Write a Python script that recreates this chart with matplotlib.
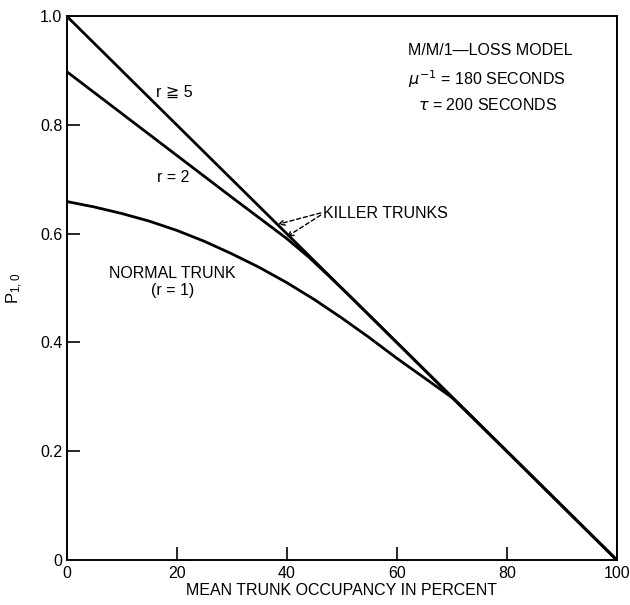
import matplotlib.pyplot as plt

plt.rcParams['font.family'] = ['Liberation Sans', 'DejaVu Sans']

# r >= 5 (straight line)
x_r5 = [0, 100]
y_r5 = [1.0, 0.0]

# r = 2
x_r2 = [0, 10, 20, 30, 40, 44, 48, 52, 60, 80, 100]
y_r2 = [0.898, 0.821, 0.744, 0.667, 0.591, 0.557, 0.519, 0.480, 0.400, 0.200, 0.0]

# normal trunk (r = 1)
x_r1 = [0, 5, 10, 15, 20, 25, 30, 35, 40, 45, 50, 55, 60, 65, 70, 75, 80, 90, 100]
y_r1 = [0.659, 0.649, 0.637, 0.623, 0.606, 0.586, 0.563, 0.538, 0.510, 0.479,
        0.445, 0.409, 0.371, 0.335, 0.299, 0.250, 0.200, 0.100, 0.0]

xticks = [0, 20, 40, 60, 80, 100]
yticks = [0, 0.2, 0.4, 0.6, 0.8, 1.0]
ytick_labels = ['0', '0.2', '0.4', '0.6', '0.8', '1.0']

fig = plt.figure(figsize=(6.3, 6.05), dpi=100)
ax = fig.add_axes([0.1056, 0.0744, 0.8734, 0.8992])

for xs, ys in [(x_r5, y_r5), (x_r2, y_r2), (x_r1, y_r1)]:
    ax.plot(xs, ys, color='black', lw=2.0, solid_capstyle='butt',
            solid_joinstyle='round')

ax.set_xlim(0, 100)
ax.set_ylim(0, 1.0)
ax.set_xticks(xticks)
ax.set_yticks(yticks)
ax.set_yticklabels(ytick_labels)
ax.tick_params(direction='in', length=9.5, width=1.2, labelsize=11.5, colors='black')
ax.tick_params(axis='x', pad=4)
ax.tick_params(axis='y', pad=3)
for t in [ax.xaxis.get_major_ticks()[0], ax.xaxis.get_major_ticks()[-1],
          ax.yaxis.get_major_ticks()[0], ax.yaxis.get_major_ticks()[-1]]:
    t.tick1line.set_visible(False)
for s in ax.spines.values():
    s.set_linewidth(1.4)

ax.set_xlabel('MEAN TRUNK OCCUPANCY IN PERCENT', fontsize=11.5, labelpad=2)
ax.set_ylabel(r'$\mathregular{P_{1,0}}$', fontsize=12)
ax.yaxis.set_label_coords(-0.075, 0.5)

fs = 11.5
ax.text(19.5, 0.86, 'r ≧ 5', fontsize=fs, ha='center', va='center')
ax.text(19.4, 0.704, 'r = 2', fontsize=fs, ha='center', va='center')
ax.text(19.2, 0.527, 'NORMAL TRUNK', fontsize=fs, ha='center', va='center')
ax.text(19.2, 0.495, '(r = 1)', fontsize=fs, ha='center', va='center')

ax.text(62.0, 0.936, 'M/M/1\u2014LOSS MODEL', fontsize=fs, ha='left', va='center')
ax.text(62.0, 0.884, r'$\mu^{-1}$ = 180 SECONDS', fontsize=fs, ha='left', va='center')
ax.text(63.8, 0.836, r'$\tau$ = 200 SECONDS', fontsize=fs, ha='left', va='center')

ax.text(46.6, 0.636, 'KILLER TRUNKS', fontsize=fs, ha='left', va='center')
arrow = dict(arrowstyle='->', linestyle=(0, (3, 2)), lw=1.0, color='black',
             shrinkA=0, shrinkB=0)
ax.annotate('', xy=(38.4, 0.617), xytext=(46.2, 0.638), arrowprops=arrow)
ax.annotate('', xy=(40.0, 0.594), xytext=(46.2, 0.634), arrowprops=arrow)

fig.savefig('out.png', dpi=100)
